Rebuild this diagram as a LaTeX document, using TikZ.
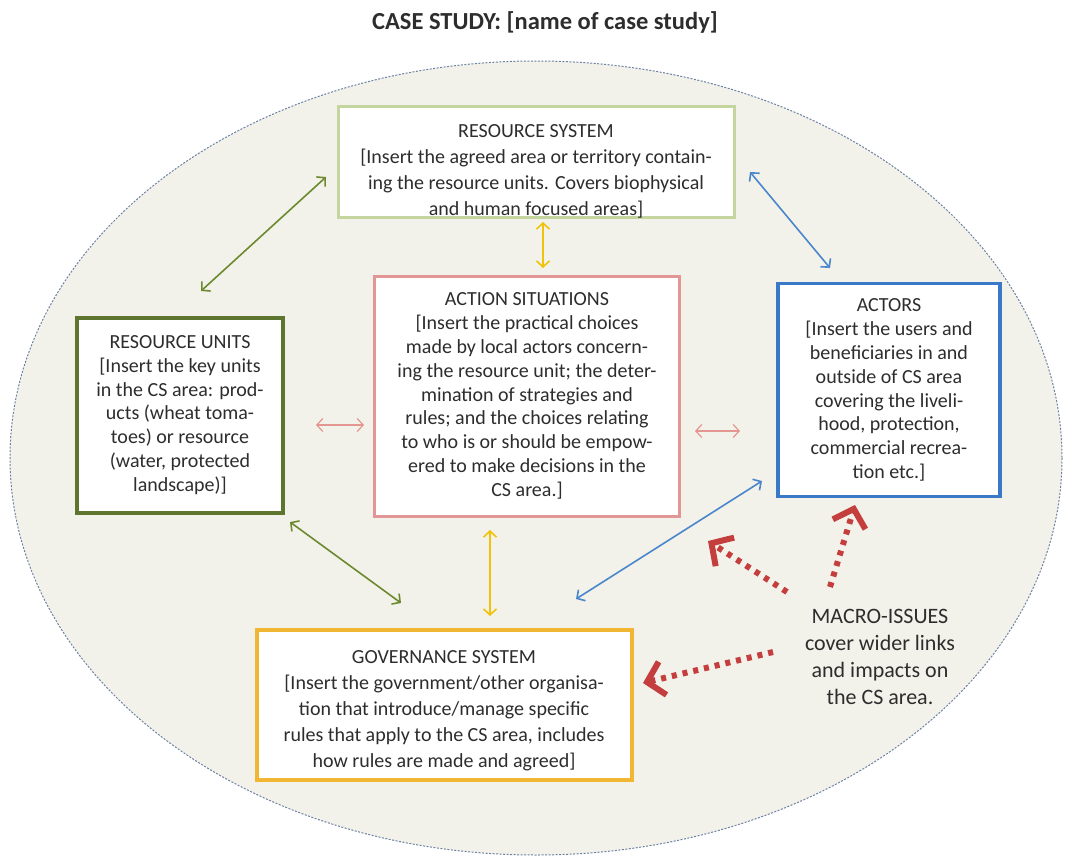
\documentclass[tikz,border=0pt]{standalone}
\usepackage{fontspec}
\setmainfont{Carlito}
\usepackage{tikz}
\usetikzlibrary{arrows.meta}

\definecolor{bgfill}{RGB}{243,242,234}
\definecolor{rimblue}{RGB}{110,130,165}
\definecolor{txtgray}{RGB}{45,45,45}
\definecolor{rsgreen}{RGB}{196,213,160}
\definecolor{ruolive}{RGB}{94,117,48}
\definecolor{aspink}{RGB}{226,150,150}
\definecolor{acblue}{RGB}{58,120,200}
\definecolor{gvgold}{RGB}{242,183,50}
\definecolor{lkolive}{RGB}{107,138,46}
\definecolor{lkyellow}{RGB}{240,195,10}
\definecolor{lkpink}{RGB}{228,150,145}
\definecolor{lkblue}{RGB}{74,134,204}
\definecolor{mired}{RGB}{196,62,62}

\tikzset{
  box/.style={draw,fill=white,align=center,inner sep=0pt,text=txtgray,
    font=\fontsize{20}{23.8}\selectfont},
  widebox/.style={box,font=\fontsize{20}{26}\selectfont},
  link/.style={<->,line width=1.6pt,>={Straight Barb[length=6pt,width=13pt]}},
  macro/.style={->,color=mired,line width=6pt,dash pattern=on 5pt off 6pt,
    >={Straight Barb[length=16pt,width=34pt]}}
}

\begin{document}
\begin{tikzpicture}[x=1pt,y=-1pt]
    \useasboundingbox (0,0) rectangle (1069,859);

    % background
    \draw[fill=bgfill,draw=rimblue,line width=1pt,dash pattern=on 2pt off 1.5pt]
        (536,458) ellipse (526 and 397);
    \node[font=\bfseries\fontsize{24.5}{27}\selectfont,text=txtgray] (title) at (545,22)
        {CASE STUDY: [name of case study]};

    % the five subsystems
    \node[widebox,draw=rsgreen,line width=3pt,minimum width=396,minimum height=105] (rs) at (536,162)
        {\rule{0pt}{31pt}RESOURCE SYSTEM\\{[}Insert the agreed area or territory contain-\\ing the resource units. Covers biophysical\\and human focused areas]};
    \node[box,draw=aspink,line width=3pt,minimum width=305,minimum height=240] (as) at (527,396)
        {ACTION SITUATIONS\\{[}Insert the practical choices\\made by local actors concern-\\ing the resource unit; the deter-\\mination of strategies and\\rules; and the choices relating\\to who is or should be empow-\\ered to make decisions in the\\CS area.]};
    \node[box,draw=ruolive,line width=4pt,minimum width=206,minimum height=195] (ru) at (180,415)
        {RESOURCE UNITS\\{[}Insert the key units\\in the CS area: prod-\\ucts (wheat toma-\\toes) or resource\\(water, protected\\landscape)]};
    \node[box,draw=acblue,line width=3.5pt,minimum width=222,minimum height=213] (ac) at (889,390)
        {ACTORS\\{[}Insert the users and\\beneficiaries in and\\outside of CS area\\covering the liveli-\\hood, protection,\\commercial recrea-\\tion etc.]};
    \node[widebox,draw=gvgold,line width=4pt,minimum width=375,minimum height=150] (gs) at (444,705)
        {\rule{0pt}{24pt}GOVERNANCE SYSTEM\\{[}Insert the government/other organisa-\\tion that introduce/manage specific\\rules that apply to the CS area, includes\\how rules are made and agreed]};

    \node[text=txtgray,align=center,font=\fontsize{22}{27}\selectfont] (mi) at (880,657)
        {MACRO-ISSUES\\cover wider links\\and impacts on\\the CS area.};

    % link ends
    \coordinate (ru-n) at (201,291);   \coordinate (rs-w) at (326,177);
    \coordinate (ru-s) at (290,522);   \coordinate (gs-nw) at (401,603);
    \coordinate (rs-s) at (543,222);   \coordinate (as-n) at (543,268);
    \coordinate (as-s) at (490,530);   \coordinate (gs-n) at (490,616);
    \coordinate (ru-e) at (316,425);   \coordinate (as-w) at (364,425);
    \coordinate (as-e) at (695,431);   \coordinate (ac-w) at (740,431);
    \coordinate (rs-e) at (750,172);   \coordinate (ac-n) at (830,268);
    \coordinate (gs-ne) at (576,599);  \coordinate (ac-sw) at (762,481);

    \draw[link,lkolive] (ru-n) -- (rs-w);
    \draw[link,lkolive] (ru-s) -- (gs-nw);
    \draw[link,lkyellow] (rs-s) -- (as-n);
    \draw[link,lkyellow] (as-s) -- (gs-n);
    \draw[link,lkpink,line width=1.2pt] (ru-e) -- (as-w);
    \draw[link,lkpink,line width=1.2pt] (as-e) -- (ac-w);
    \draw[link,lkblue] (rs-e) -- (ac-n);
    \draw[link,lkblue] (gs-ne) -- (ac-sw);

    % macro-issue pointers
    \coordinate (mi-a) at (787,592);  \coordinate (as-se) at (708,541);
    \coordinate (mi-b) at (830,587);  \coordinate (ac-s) at (855,505);
    \coordinate (mi-c) at (773,652);  \coordinate (gs-e) at (643,683);
    \draw[macro] (mi-a) -- (as-se);
    \draw[macro] (mi-b) -- (ac-s);
    \draw[macro] (mi-c) -- (gs-e);
\end{tikzpicture}
\end{document}
